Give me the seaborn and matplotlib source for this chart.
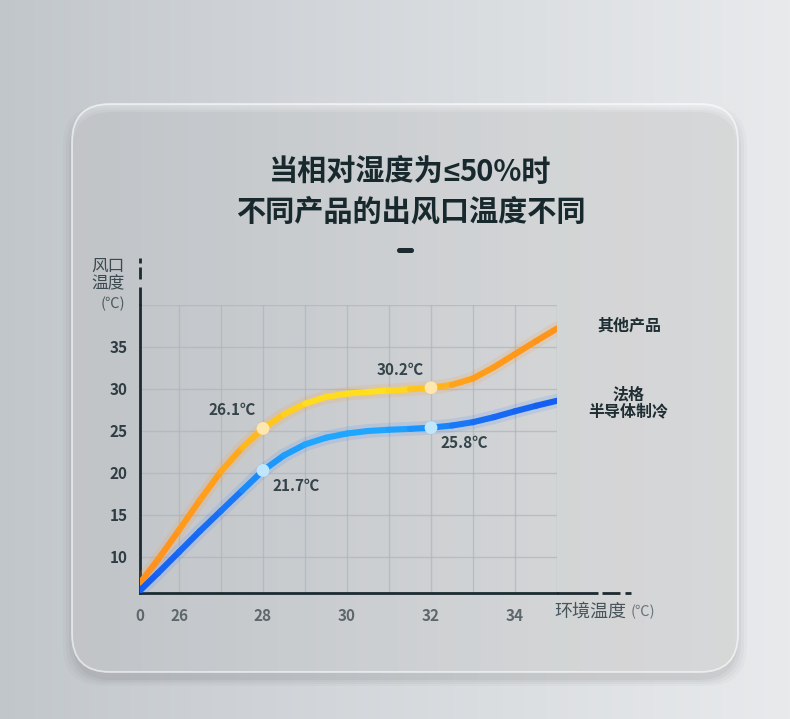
import numpy as np
import pandas as pd
import matplotlib
matplotlib.use("Agg")
import matplotlib.pyplot as plt
import seaborn as sns
from matplotlib.collections import LineCollection
from matplotlib.colors import LinearSegmentedColormap, to_rgb
from matplotlib.patches import FancyBboxPatch

# ambient temperature (°C); the first point sits on the broken-axis origin "0"
ambient = [25.07, 25.5, 26, 26.5, 27, 27.5, 28, 28.5, 29, 29.5, 30,
           30.5, 31, 31.5, 32, 32.5, 33, 33.5, 34, 34.5, 35]
# outlet temperature (°C)
other_outlet = [6.9, 9.7, 13.2, 16.8, 20.2, 23.0, 25.3, 27.0, 28.25, 29.05, 29.45,
                29.65, 29.82, 29.97, 30.15, 30.5, 31.25, 32.6, 34.15, 35.7, 37.2]
fage_outlet = [6.0, 8.1, 10.6, 13.1, 15.5, 17.9, 20.3, 22.1, 23.4, 24.2, 24.7,
               25.0, 25.15, 25.25, 25.4, 25.65, 26.05, 26.65, 27.35, 28.0, 28.6]

marked_x = [28, 32]
other_labels = ["26.1℃", "30.2℃"]
fage_labels = ["21.7℃", "25.8℃"]

x_ticks = [25.07, 26, 27, 28, 29, 30, 31, 32, 33, 34, 35]
x_ticklabels = ["0", "26", "", "28", "", "30", "", "32", "", "34", ""]
y_ticks = [10, 15, 20, 25, 30, 35, 40]
y_ticklabels = ["10", "15", "20", "25", "30", "35", ""]

series_names = ["其他产品", "法格半导体制冷"]

df = pd.DataFrame({
    "ambient": ambient * 2,
    "outlet": other_outlet + fage_outlet,
    "product": [series_names[0]] * len(ambient) + [series_names[1]] * len(ambient),
})

sns.set_theme(style="white")
CJK = ["Noto Sans CJK SC", "DejaVu Sans"]
plt.rcParams["font.family"] = CJK

W, H = 790, 719
DARK = "#1b2b30"

fig = plt.figure(figsize=(W / 100, H / 100), dpi=100)

# background + frosted card
bg = fig.add_axes([0, 0, 1, 1], zorder=0)
c0, c1 = np.array(to_rgb("#c1c6cb")), np.array(to_rgb("#e8eaec"))
ramp = np.linspace(0, 1, 256)
grad = c0[None, None, :] + (c1 - c0)[None, None, :] * ramp[None, :, None] ** 0.9
bg.imshow(np.repeat(grad, 4, axis=0), extent=[0, W, H, 0], aspect="auto")
for k, a in enumerate([0.035, 0.03, 0.025, 0.02]):
    bg.add_patch(FancyBboxPatch((72 - k * 3, 112 - k * 2), 666 + k * 6, 568 + k * 4,
                                boxstyle="round,pad=0,rounding_size=40",
                                facecolor="black", edgecolor="none", alpha=a))
bg.add_patch(FancyBboxPatch((72, 104), 666, 568,
                            boxstyle="round,pad=0,rounding_size=38",
                            facecolor=(1, 1, 1, 0.24), edgecolor=(1, 1, 1, 0.6),
                            linewidth=1.3))
bg.add_patch(FancyBboxPatch((397, 248), 17, 5, boxstyle="round,pad=0,rounding_size=2.5",
                            facecolor=DARK, edgecolor="none"))
bg.set_xlim(0, W)
bg.set_ylim(H, 0)
bg.axis("off")

# chart axes
ax = fig.add_axes([140 / W, (H - 593) / H, 417 / W, 288 / H], zorder=2)
ax.patch.set_alpha(0)

palette = {series_names[0]: "#ff9a3c", series_names[1]: "#4a8cff"}
sns.lineplot(data=df, x="ambient", y="outlet", hue="product", palette=palette,
             linewidth=10, alpha=0.16, legend=False, ax=ax, zorder=3)

stops = {
    series_names[0]: [(0.0, "#ff8f1c"), (0.2, "#ffa21c"), (0.3, "#ffc21f"),
                      (0.42, "#ffdc1e"), (0.6, "#ffe01e"), (0.68, "#ffc21e"),
                      (0.78, "#ffa01a"), (1.0, "#ff931a")],
    series_names[1]: [(0.0, "#165cf2"), (0.2, "#1870f6"), (0.3, "#1a96fb"),
                      (0.42, "#1fa6ff"), (0.6, "#1fa6ff"), (0.7, "#1a8cfc"),
                      (0.8, "#186ff6"), (1.0, "#145df0")],
}
for name, grp in df.groupby("product"):
    xs, ys = grp["ambient"].to_numpy(), grp["outlet"].to_numpy()
    pts = np.column_stack([xs, ys]).reshape(-1, 1, 2)
    segs = np.concatenate([pts[:-1], pts[1:]], axis=1)
    cmap = LinearSegmentedColormap.from_list(name, stops[name])
    mid = (xs[:-1] + xs[1:]) / 2
    lc = LineCollection(segs, colors=cmap((mid - xs[0]) / (xs[-1] - xs[0])),
                        linewidths=4.4, capstyle="round", joinstyle="round", zorder=4)
    ax.add_collection(lc)

# highlighted points
idx = [ambient.index(v) for v in marked_x]
pts_df = pd.DataFrame({
    "ambient": marked_x * 2,
    "outlet": [other_outlet[i] for i in idx] + [fage_outlet[i] for i in idx],
    "product": [series_names[0]] * 2 + [series_names[1]] * 2,
})
sns.scatterplot(data=pts_df, x="ambient", y="outlet", hue="product",
                palette={series_names[0]: "#fde7ae", series_names[1]: "#bfe6fb"},
                s=85, edgecolor="none", legend=False, ax=ax, zorder=5)

ann_kw = dict(textcoords="offset points", ha="center", va="center",
              fontsize=11, fontweight="bold", color="#34444a", zorder=6)
for i, lab in zip(idx, other_labels):
    ax.annotate(lab, (ambient[i], other_outlet[i]), xytext=(-22, 13), **ann_kw)
for i, lab in zip(idx, fage_labels):
    ax.annotate(lab, (ambient[i], fage_outlet[i]), xytext=(24, -11), **ann_kw)

ax.set_xlim(25.07, 35)
ax.set_ylim(5.71, 40)
ax.set_xticks(x_ticks)
ax.set_xticklabels(x_ticklabels)
ax.set_yticks(y_ticks)
ax.set_yticklabels(y_ticklabels)
ax.set_xlabel("")
ax.set_ylabel("")
ax.grid(True, color="#aeb5ba", linewidth=1.0, alpha=0.7)
ax.tick_params(axis="both", direction="in", length=5, width=1.6, color=DARK)
ax.tick_params(axis="y", pad=9, labelsize=11, labelcolor="#2e3d43")
ax.tick_params(axis="x", pad=11, labelsize=11, labelcolor="#5d676c")
for t in ax.get_xticklabels() + ax.get_yticklabels():
    t.set_fontweight("bold")
for s in ["top", "right"]:
    ax.spines[s].set_visible(False)
for s in ["left", "bottom"]:
    ax.spines[s].set_color(DARK)
    ax.spines[s].set_linewidth(2.0)

# broken axis extensions
ext = dict(transform=ax.transAxes, color=DARK, linewidth=2.0, clip_on=False,
           solid_capstyle="butt", zorder=6)
for y0, y1 in [(1.0, 1.0625), (1.0903, 1.1319), (1.1458, 1.1632)]:
    ax.plot([0, 0], [y0, y1], **ext)
for x0, x1 in [(1.0, 1.0983), (1.108, 1.151), (1.163, 1.177)]:
    ax.plot([x0, x1], [0, 0], **ext)


def ftext(x, y, s, **kw):
    kw.setdefault("va", "center")
    return fig.text(x / W, 1 - y / H, s, ha=kw.pop("ha", "center"), **kw)


# title, first line split so "≤" uses a Latin glyph
renderer = fig.canvas.get_renderer()
title_kw = dict(fontsize=21, fontweight="bold", color="#18292e", va="baseline", ha="left")
pieces = [("当相对湿度为", CJK), ("≤", ["Liberation Sans", "DejaVu Sans"]), ("50%时", CJK)]
objs = [ftext(0, 181, s, family=f, **title_kw) for s, f in pieces]
widths = [o.get_window_extent(renderer).width for o in objs]
x = 410 - sum(widths) / 2
for o, w in zip(objs, widths):
    o.set_x(x / W)
    x += w
ftext(411, 221, "不同产品的出风口温度不同", fontsize=21, fontweight="bold",
      color="#18292e", va="baseline")

ftext(108, 266, "风口", fontsize=12, color="#3b4a50")
ftext(108, 284, "温度", fontsize=12, color="#3b4a50")
ftext(113, 304, "(℃)", fontsize=10.5, color="#4d5b61")

ftext(590, 612, "环境温度", fontsize=13, color="#47545a")
ftext(643, 612, "(℃)", fontsize=10.5, color="#6a757a")

ftext(629, 326, "其他产品", fontsize=11.5, fontweight="bold", color="#1e2e33")
ftext(628, 394, "法格", fontsize=11.5, fontweight="bold", color="#1e2e33")
ftext(628, 411, "半导体制冷", fontsize=11.5, fontweight="bold", color="#1e2e33")

fig.savefig("out.png", dpi=100)
